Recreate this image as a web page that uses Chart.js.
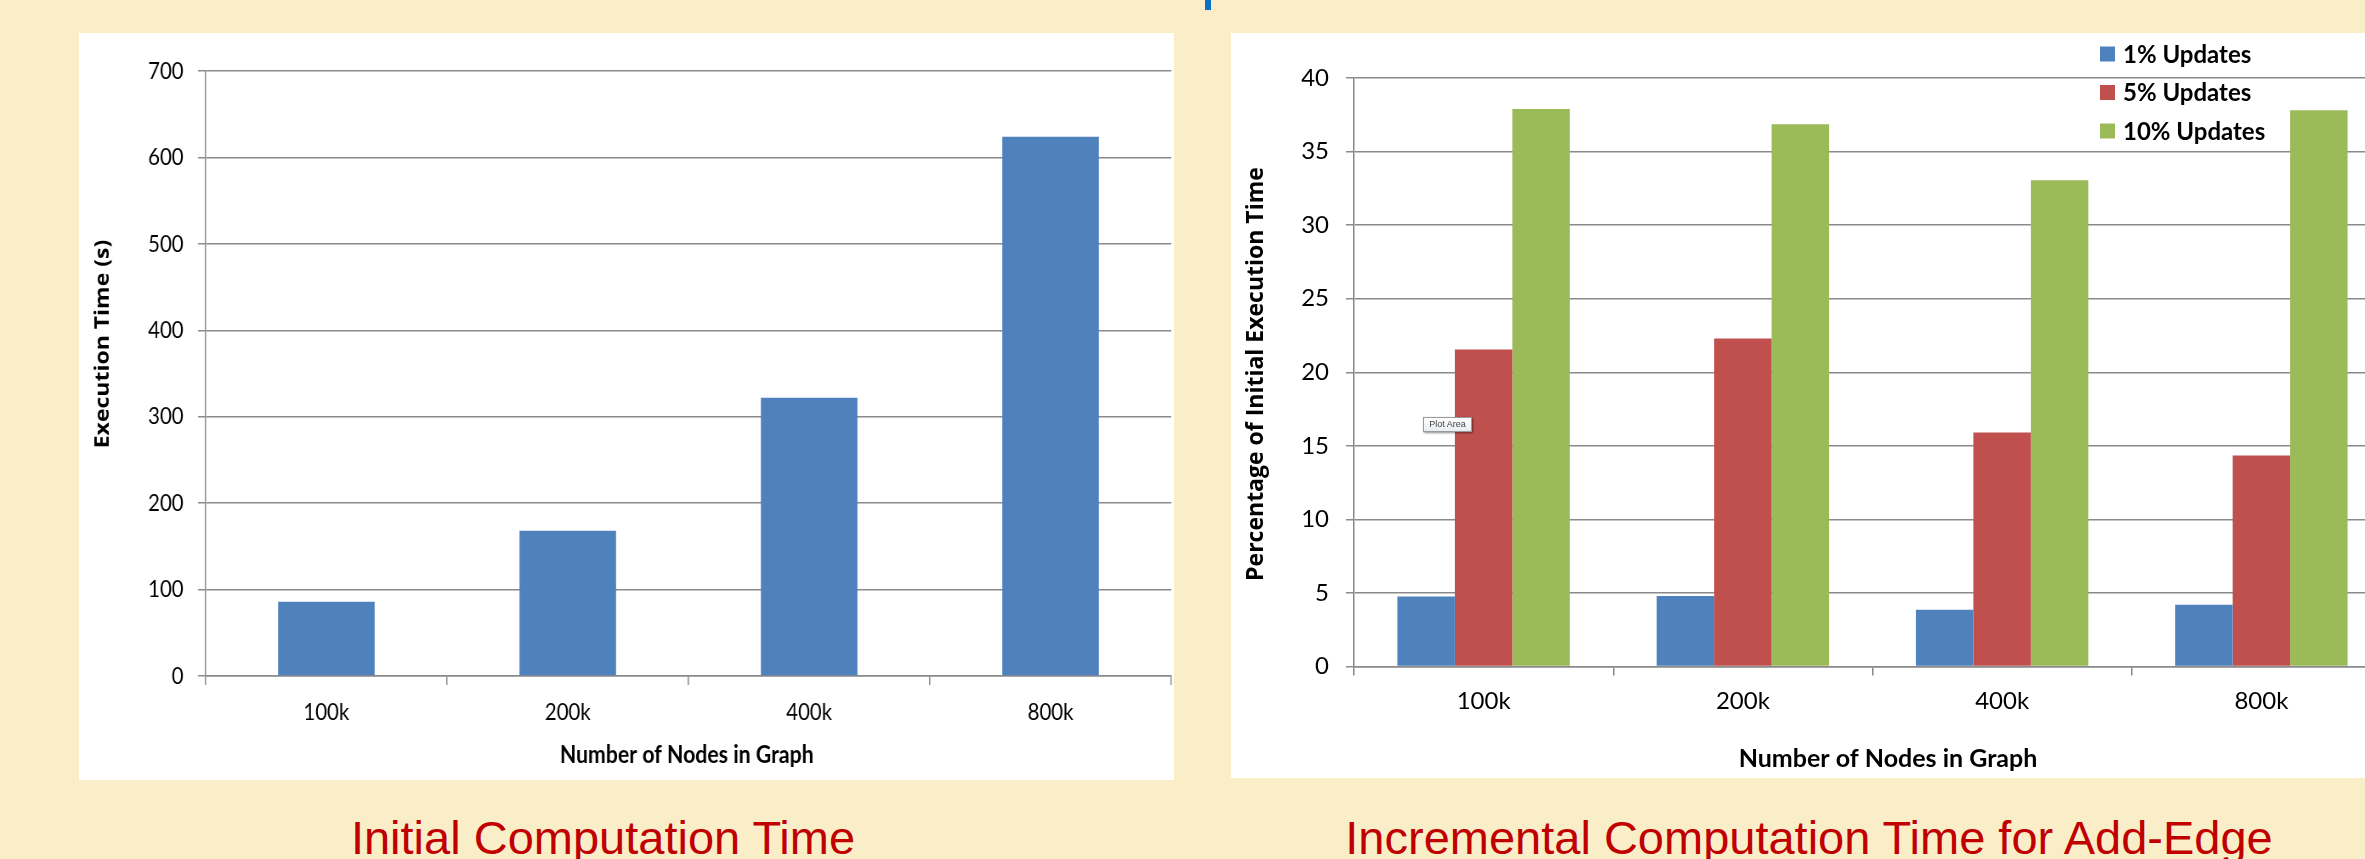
<!DOCTYPE html>
<html>
<head>
<meta charset="utf-8">
<title>Initial and Incremental Computation Time</title>
<script src="https://cdn.jsdelivr.net/npm/chart.js@4.4.1/dist/chart.umd.min.js"></script>
<style>
  html, body { margin: 0; padding: 0; width: 2365px; height: 859px; overflow: hidden; background: #FAEEC8; }
  .panel { position: absolute; background: #ffffff; overflow: hidden; }
  #leftPanel { left: 79px; top: 33px; width: 1095px; height: 747px; }
  #leftPanel canvas { transform: scaleX(0.85); transform-origin: 0 0; }
  #rightPanel { left: 1231px; top: 33px; width: 1134px; height: 745px; }
  .caption { position: absolute; top: 810px; font: 47px "Liberation Sans", Arial, sans-serif; color: #C00000;
             white-space: nowrap; transform: translateX(-50%); line-height: normal; }
  #capLeft { left: 603px; }
  #capRight { left: 1809px; }
  #marker { position: absolute; left: 1205px; top: 0; width: 6px; height: 10px; background: #0B6FC6; }
  #hoverTag { position: absolute; left: 1423px; top: 417px; width: 47px; height: 13px; border: 1px solid #9a9a9a;
              background: linear-gradient(#ffffff, #e9ecf2); box-shadow: 1px 1px 2px rgba(0,0,0,0.45);
              font: 9px "Liberation Sans", Arial, sans-serif; color: #444; text-align: center; line-height: 13px; }
</style>
</head>
<body>
<div id="marker"></div>
<div class="panel" id="leftPanel"><canvas id="initialChart" width="1288" height="747"></canvas></div>
<div class="panel" id="rightPanel"><canvas id="incrementalChart" width="1164" height="745"></canvas></div>
<div id="hoverTag">Plot Area</div>
<div class="caption" id="capLeft">Initial Computation Time</div>
<div class="caption" id="capRight">Incremental Computation Time for Add-Edge</div>

<script>
// Graph sizes on the x axis of both charts
const categories = ['100k', '200k', '400k', '800k'];

// Initial computation time, seconds
const initialTimes = [86, 168, 322, 624];

// Incremental add-edge time, % of the initial execution time
const seriesLabels = ['1% Updates', '5% Updates', '10% Updates'];
const updates1 = [4.75, 4.8, 3.85, 4.2];
const updates5 = [21.55, 22.3, 15.9, 14.35];
const updates10 = [37.9, 36.85, 33.05, 37.8];

// Value axis ranges and tick steps
const initialAxis = { min: 0, max: 700, step: 100 };
const percentAxis = { min: 0, max: 40, step: 5 };

const seriesColors = ['#4F81BD', '#C0504D', '#9BBB59'];
const GRID = '#8a8a8a';
const TICK_FONT = { family: 'Lato', size: 24 };
const VALUE_TITLE_FONT = 'bold 23px "Open Sans"';
const CATEGORY_TITLE_FONT = 'bold 25px Lato';

// Axis titles placed at fixed spots inside each canvas
const axisTitles = {
  id: 'axisTitles',
  afterDraw(chart, args, opts) {
    const ctx = chart.ctx;
    (opts.items || []).forEach(it => {
      ctx.save();
      ctx.translate(it.x, it.y);
      if (it.rotate) ctx.rotate(it.rotate);
      ctx.font = it.font;
      ctx.fillStyle = '#000';
      ctx.textAlign = 'center';
      ctx.textBaseline = 'middle';
      ctx.fillText(it.text, 0, 0);
      ctx.restore();
    });
  }
};

// Series key in the upper right corner, built from the datasets
const cornerLegend = {
  id: 'cornerLegend',
  afterDraw(chart, args, opts) {
    if (!opts || opts.x === undefined) return;
    const ctx = chart.ctx;
    ctx.save();
    chart.data.datasets.forEach((ds, i) => {
      const cy = opts.y + i * opts.rowHeight;
      ctx.fillStyle = ds.backgroundColor;
      ctx.fillRect(opts.x, cy - opts.box / 2, opts.box, opts.box);
      ctx.font = opts.font;
      ctx.fillStyle = '#000';
      ctx.textAlign = 'left';
      ctx.textBaseline = 'alphabetic';
      ctx.fillText(ds.label, opts.x + opts.box + opts.gap, cy + opts.capHalf);
    });
    ctx.restore();
  }
};

function xScale(height, padding) {
  return {
    grid: { display: true, drawOnChartArea: false, drawTicks: true, tickLength: 9, color: GRID, lineWidth: 1.5, offset: true },
    border: { display: true, color: GRID, width: 1.5 },
    ticks: { font: TICK_FONT, color: '#000', padding: padding, maxRotation: 0, autoSkip: false },
    afterFit(s) { s.height = height; }
  };
}

function yScale(axis, width, tickLength, padding) {
  return {
    min: axis.min, max: axis.max,
    ticks: { stepSize: axis.step, font: TICK_FONT, color: '#000', padding: padding },
    grid: { color: GRID, lineWidth: 1.5, tickLength: tickLength },
    border: { display: true, color: GRID, width: 1.5 },
    afterFit(s) { s.width = width; }
  };
}

function build() {
  Chart.defaults.font.family = 'Lato';

  new Chart(document.getElementById('initialChart'), {
    type: 'bar',
    data: {
      labels: categories,
      datasets: [{
        label: 'Execution Time (s)',
        data: initialTimes,
        backgroundColor: seriesColors[0],
        borderWidth: 0,
        categoryPercentage: 0.4,
        barPercentage: 1
      }]
    },
    options: {
      responsive: false,
      animation: false,
      layout: { padding: { left: 0, top: 38, right: 3, bottom: 0 } },
      plugins: {
        legend: { display: false },
        tooltip: { enabled: false },
        axisTitles: {
          items: [
            { text: 'Number of Nodes in Graph', x: 715, y: 722, font: CATEGORY_TITLE_FONT },
            { text: 'Execution Time (s)', x: 28, y: 311, rotate: -Math.PI / 2, font: VALUE_TITLE_FONT }
          ]
        }
      },
      scales: {
        x: xScale(104, 13),
        y: yScale(initialAxis, 149, 9, 17)
      }
    },
    plugins: [axisTitles]
  });

  const incData = [updates1, updates5, updates10];
  new Chart(document.getElementById('incrementalChart'), {
    type: 'bar',
    data: {
      labels: categories,
      datasets: seriesLabels.map((label, i) => ({
        label: label,
        data: incData[i],
        backgroundColor: seriesColors[i],
        borderWidth: 0,
        categoryPercentage: 0.665,
        barPercentage: 1
      }))
    },
    options: {
      responsive: false,
      animation: false,
      layout: { padding: { left: 0, top: 45, right: 4, bottom: 0 } },
      plugins: {
        legend: { display: false },
        tooltip: { enabled: false },
        axisTitles: {
          items: [
            { text: 'Number of Nodes in Graph', x: 657, y: 726, font: CATEGORY_TITLE_FONT },
            { text: 'Percentage of Initial Execution Time', x: 25, y: 341, rotate: -Math.PI / 2, font: VALUE_TITLE_FONT }
          ]
        },
        cornerLegend: { x: 869, y: 21, rowHeight: 38.5, box: 15, gap: 8, font: 'bold 24px Lato', capHalf: 8.6 }
      },
      scales: {
        x: xScale(111.5, 11),
        y: yScale(percentAxis, 123, 8, 17)
      }
    },
    plugins: [axisTitles, cornerLegend]
  });
}

const fontLoads = ['24px Lato', 'bold 24px Lato', 'bold 23px "Open Sans"', '47px "Liberation Sans"']
  .map(f => document.fonts.load(f).catch(() => null));
Promise.all(fontLoads).then(build, build);
</script>
</body>
</html>
